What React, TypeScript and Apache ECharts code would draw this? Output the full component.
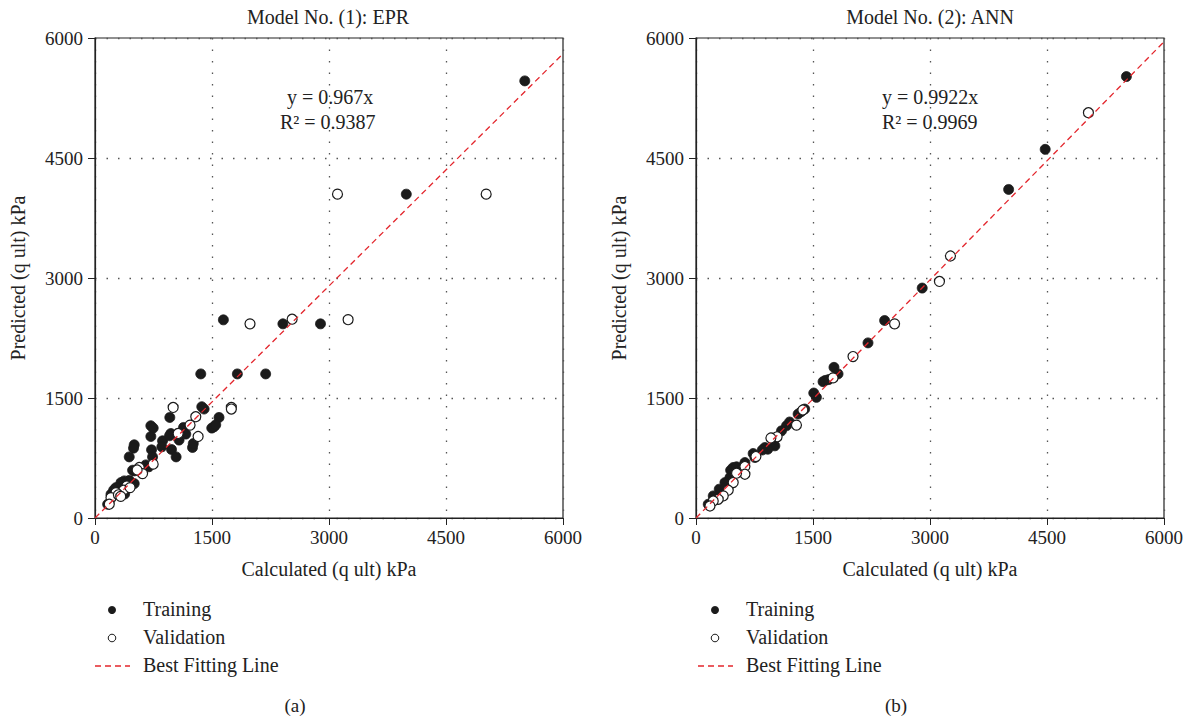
import React, { useEffect, useRef } from "react";
import * as echarts from "echarts";

const axisTicks = [0, 1500, 3000, 4500, 6000];
const panelTitles = ["Model No. (1): EPR", "Model No. (2): ANN"];
const panelTags = ["(a)", "(b)"];
const fitSlopes = [0.967, 0.9922];
const fitR2 = ["0.9387", "0.9969"];
const seriesNames = ["Training", "Validation", "Best Fitting Line"];

const eprTraining: number[][] = [
  [5510, 5464], [3991, 4048], [1646, 2477], [2409, 2427], [2891, 2427], [1356, 1801], [1825, 1801], [2188, 1801],
  [1369, 1391], [1399, 1362], [959, 1257], [716, 1153], [746, 1124], [716, 1019], [503, 915], [494, 873],
  [439, 764], [725, 852], [738, 764], [866, 965], [857, 890], [972, 1056], [955, 1028], [981, 856],
  [1040, 764], [1078, 974], [1135, 1132], [1164, 1049], [1250, 881], [1260, 930], [1590, 1257], [1497, 1124],
  [1526, 1140], [1548, 1165], [503, 589], [482, 597], [652, 664], [690, 640], [375, 464], [333, 443],
  [420, 450], [503, 430], [269, 380], [205, 297], [162, 172], [300, 330], [240, 350], [560, 620],
  [600, 560], [440, 470], [380, 300],
];
const eprValidation: number[][] = [
  [3109, 4048], [5015, 4048], [1987, 2427], [2527, 2485], [3245, 2479], [1002, 1382], [1748, 1382], [1748, 1362],
  [1292, 1266], [1219, 1161], [1322, 1019], [1066, 1057], [746, 673], [567, 631], [610, 555], [540, 600],
  [409, 401], [367, 347], [269, 317], [205, 254], [183, 172], [300, 290], [450, 380], [330, 270],
];
const annTraining: number[][] = [
  [5518, 5518], [4477, 4608], [4008, 4107], [2900, 2874], [2418, 2469], [2205, 2189], [1769, 1883], [1821, 1801],
  [1629, 1704], [1658, 1720], [1700, 1730], [1510, 1562], [1544, 1508], [1394, 1362], [1309, 1300], [1160, 1153],
  [1096, 1090], [989, 999], [1011, 902], [883, 881], [920, 860], [733, 806], [755, 756], [627, 693],
  [477, 631], [444, 597], [520, 640], [435, 505], [371, 443], [298, 360], [221, 276], [157, 172],
  [1200, 1200], [850, 850], [1350, 1330], [600, 640], [380, 380],
];
const annValidation: number[][] = [
  [5031, 5066], [3262, 3275], [3121, 2957], [2546, 2427], [2013, 2018], [1757, 1751], [1288, 1161], [1040, 1015],
  [768, 768], [627, 643], [627, 547], [477, 443], [413, 347], [349, 276], [285, 234], [221, 213],
  [179, 150], [520, 560], [960, 1000], [1370, 1350],
];

const FONT = "'Liberation Serif', 'DejaVu Serif', serif";
const INK = "#222";
const DOT = "#1b1b1b";
const RED = "#e3262d";

export default function App() {
  const ref = useRef<HTMLDivElement>(null);
  useEffect(() => {
    if (!ref.current) return;
    const chart = echarts.init(ref.current, undefined, { renderer: "svg" });
    const gridLefts = [95, 696];
    const tmin = axisTicks[0];
    const tmax = axisTicks[axisTicks.length - 1];
    const interval = axisTicks[1] - axisTicks[0];

    const grids = gridLefts.map((l) => ({
      left: l, top: 38, width: 468, height: 480,
      show: true, borderColor: INK, borderWidth: 1.2, backgroundColor: "transparent",
    }));
    const common = {
      min: tmin, max: tmax, interval,
      axisLine: { show: true, onZero: false, lineStyle: { color: INK, width: 1.2 } },
      axisTick: { show: true, inside: false, length: 7, lineStyle: { color: INK, width: 1 } },
      axisLabel: { fontFamily: FONT, fontSize: 19, color: INK, margin: 12, formatter: (v: number) => String(v) },
      splitLine: { show: true, lineStyle: { color: "#555", width: 1.3, type: [1.5, 10] } },
      nameLocation: "middle" as const,
      nameTextStyle: { fontFamily: FONT, fontSize: 20, color: INK },
    };
    const xAxes = [0, 1].map((i) => ({
      ...common, type: "value" as const, gridIndex: i, name: "Calculated (q ult) kPa", nameGap: 41,
      axisLabel: { ...common.axisLabel, margin: 10 },
    }));
    const yAxes = [0, 1].map((i) => ({
      ...common, type: "value" as const, gridIndex: i, name: "Predicted (q ult) kPa", nameGap: 67,
    }));

    const datasets = [
      [eprTraining, eprValidation],
      [annTraining, annValidation],
    ];
    const series: any[] = [];
    datasets.forEach((d, i) => {
      series.push({
        type: "scatter", name: seriesNames[0], xAxisIndex: i, yAxisIndex: i, data: d[0],
        symbol: "circle", symbolSize: 10, itemStyle: { color: DOT, borderColor: DOT, borderWidth: 0.8, opacity: 1 }, z: 3,
      });
      series.push({
        type: "scatter", name: seriesNames[1], xAxisIndex: i, yAxisIndex: i, data: d[1],
        symbol: "circle", symbolSize: 10, itemStyle: { color: "#fff", borderColor: DOT, borderWidth: 1.2, opacity: 1 }, z: 4,
      });
      series.push({
        type: "line", name: seriesNames[2], xAxisIndex: i, yAxisIndex: i,
        data: [[tmin, tmin * fitSlopes[i]], [tmax, tmax * fitSlopes[i]]],
        symbol: "none", lineStyle: { color: RED, width: 1.3, type: [6, 4] }, z: 5, silent: true,
      });
    });

    const txt = (text: string, x: number, y: number, align = "left", size = 20) => ({
      type: "text", x, y, silent: true,
      style: { text, fill: INK, fontFamily: FONT, fontSize: size, textAlign: align, textVerticalAlign: "middle" },
    });
    const graphic: any[] = [];
    const titleCenters = [328, 930];
    const eqX = [[287, 280], [882, 882]];
    const legendX = [112, 715];
    const tagX = [295, 896];
    [0, 1].forEach((i) => {
      graphic.push(txt(panelTitles[i], titleCenters[i], 17, "center", 20));
      graphic.push(txt(`y = ${fitSlopes[i]}x`, eqX[i][0], 97, "left", 20));
      graphic.push(txt(`R² = ${fitR2[i]}`, eqX[i][1], 122, "left", 20));
      const lx = legendX[i];
      graphic.push({ type: "circle", silent: true, shape: { cx: lx, cy: 610, r: 4 }, style: { fill: DOT } });
      graphic.push({ type: "circle", silent: true, shape: { cx: lx, cy: 638, r: 3.8 }, style: { fill: "#fff", stroke: DOT, lineWidth: 1 } });
      graphic.push({ type: "line", silent: true, shape: { x1: lx - 17, y1: 666, x2: lx + 18, y2: 666 }, style: { stroke: RED, lineWidth: 1.3, lineDash: [6, 4] } });
      graphic.push(txt(seriesNames[0], lx + 31, 609));
      graphic.push(txt(seriesNames[1], lx + 31, 637));
      graphic.push(txt(seriesNames[2], lx + 31, 665));
      graphic.push(txt(panelTags[i], tagX[i], 705, "center", 19));
    });

    chart.setOption({
      animation: false,
      backgroundColor: "#fff",
      textStyle: { fontFamily: FONT },
      grid: grids,
      xAxis: xAxes,
      yAxis: yAxes,
      series,
      graphic,
    });
    return () => chart.dispose();
  }, []);
  return <div ref={ref} style={{ position: "fixed", left: 0, top: 0, width: 1197, height: 722 }} />;
}
